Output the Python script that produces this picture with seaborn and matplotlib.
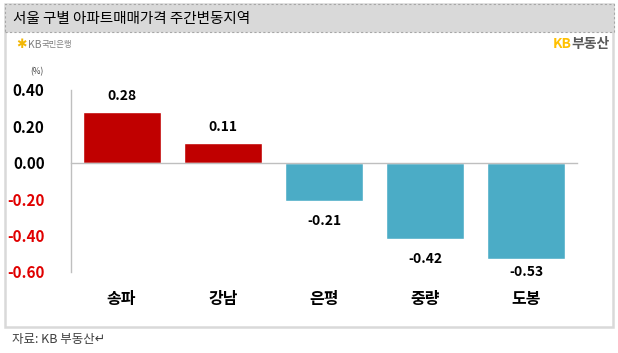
import matplotlib
matplotlib.use("Agg")
import matplotlib.pyplot as plt
import seaborn as sns
import pandas as pd
from matplotlib.patches import Rectangle
from matplotlib.transforms import blended_transform_factory

# ---- data ----
regions = ["송파", "강남", "은평", "중량", "도봉"]
changes = [0.28, 0.11, -0.21, -0.42, -0.53]
yticks = [0.40, 0.20, 0.00, -0.20, -0.40, -0.60]
ytick_labels = ["0.40", "0.20", "0.00", "-0.20", "-0.40", "-0.60"]
title = "서울 구별 아파트매매가격 주간변동지역"
source = "자료: KB 부동산↵"
unit = "(%)"

sns.set_theme(style="white")
plt.rcParams["font.family"] = ["Noto Sans CJK KR", "DejaVu Sans"]

W, H = 618, 353
fig = plt.figure(figsize=(W / 100, H / 100), dpi=100)
fig.patch.set_facecolor("white")

def fx(px):
    return px / W

def fy(py):
    return 1 - py / H

# outer frame and title band
fig.add_artist(Rectangle((fx(5), fy(327)), fx(613) - fx(5), fy(4) - fy(327),
                         transform=fig.transFigure, fill=False,
                         edgecolor="#D9D9D9", linewidth=1.8, zorder=0))
fig.add_artist(Rectangle((fx(5), fy(32)), fx(614) - fx(5), fy(4) - fy(32),
                         transform=fig.transFigure, facecolor="#D9D9D9",
                         edgecolor="#A6A6A6", linewidth=0.8, linestyle=(0, (2, 2)),
                         zorder=1))
fig.text(fx(13), fy(18.5), title, fontsize=10.5, color="black", va="center", ha="left")

# logos
fig.text(fx(16), fy(45), "✱", fontsize=9, color="#F2B705", va="center", ha="left",
         family=["DejaVu Sans"])
fig.text(fx(28), fy(45), "KB", fontsize=7.5, color="#7F7F7F", va="center", ha="left")
fig.text(fx(42), fy(45), "국민은행", fontsize=6, color="#7F7F7F", va="center", ha="left")
fig.text(fx(553), fy(44), "KB", fontsize=10, color="#FFC000", va="center", ha="left",
         fontweight="bold")
fig.text(fx(610), fy(44), "부동산", fontsize=10, color="#595959", va="center", ha="right",
         fontweight="bold")

fig.text(fx(12), fy(340), source, fontsize=9, color="#404040", va="center", ha="left")

# axes
ax_h_px = 182
ax = fig.add_axes([fx(71), fy(272), fx(577) - fx(71), fy(90) - fy(272)])
ax.set_facecolor("none")

df = pd.DataFrame({"region": regions, "change": changes})
df["sign"] = ["pos" if v >= 0 else "neg" for v in changes]
sns.barplot(data=df, x="region", y="change", hue="sign",
            palette={"pos": "#C00000", "neg": "#4BACC6"},
            dodge=False, width=0.77, legend=False, ax=ax, saturation=1,
            order=regions)

ymin, ymax = min(yticks), max(yticks)
ax.set_xlim(-0.5, len(regions) - 0.5)
ax.set_ylim(ymin, ymax)
ax.set_xlabel("")
ax.set_ylabel("")

for s in ["top", "right"]:
    ax.spines[s].set_visible(False)
ax.spines["left"].set_color("#BFBFBF")
ax.spines["left"].set_linewidth(1.0)
ax.spines["bottom"].set_position(("data", 0))
ax.spines["bottom"].set_color("#BFBFBF")
ax.spines["bottom"].set_linewidth(1.0)

ax.set_yticks(yticks)
ax.set_yticklabels(ytick_labels)
ax.tick_params(axis="y", direction="in", length=4, width=1, color="#BFBFBF",
               pad=19, labelsize=11)
for lbl, v in zip(ax.get_yticklabels(), yticks):
    lbl.set_fontweight("bold")
    lbl.set_color("black" if v >= 0 else "#E00000")

ax.set_xticks([i - 0.5 for i in range(len(regions) + 1)])
ax.set_xticklabels([])
ax.tick_params(axis="x", direction="out", length=4, width=1, color="#BFBFBF")

trans = blended_transform_factory(ax.transData, ax.transAxes)
for i, name in enumerate(regions):
    ax.text(i, -27 / 182, name, transform=trans, ha="center", va="center",
            fontsize=11.5, fontweight="bold", color="black")

# data labels: centred 16px above positive bars, 20px below negative bars,
# kept inside the plot area (as the spreadsheet does)
units_per_px = (ymax - ymin) / ax_h_px
for i, v in enumerate(changes):
    if v > 0:
        ypos = v + 16 * units_per_px
    else:
        ypos = max(v - 20 * units_per_px, ymin)
    ax.text(i, ypos, f"{v:.2f}", ha="center", va="center",
            fontsize=10, fontweight="bold", color="black", clip_on=False)

fig.text(fx(37), fy(72), unit, fontsize=6, color="#404040", va="center", ha="center")

fig.savefig("out.png", dpi=100)
